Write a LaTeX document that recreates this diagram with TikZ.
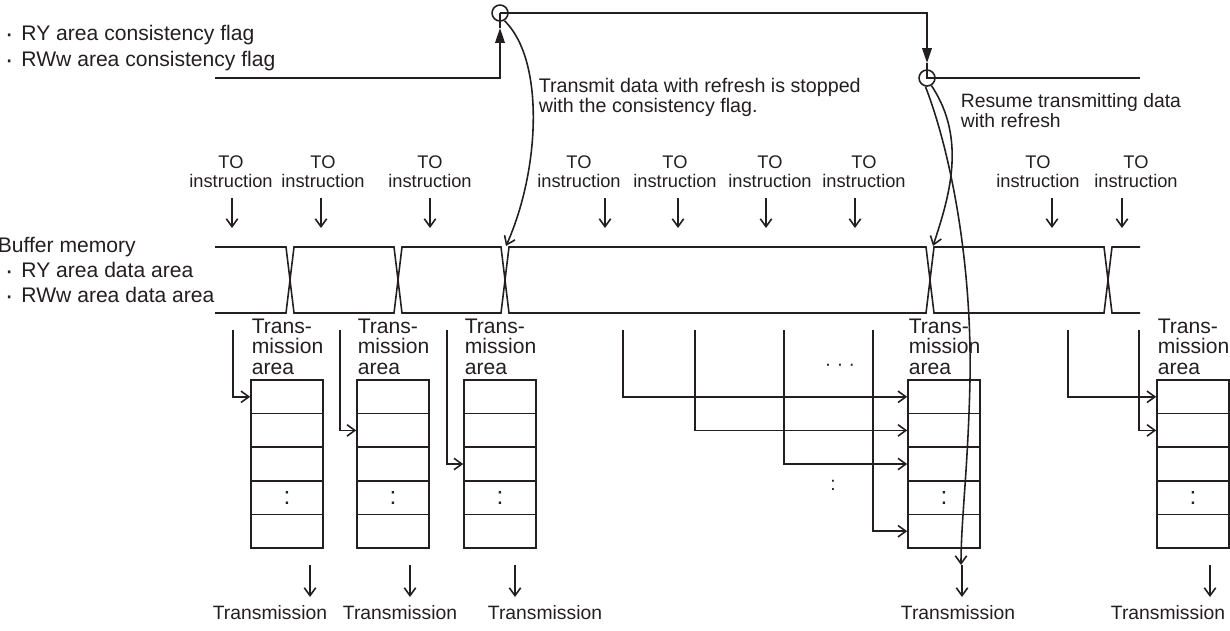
\documentclass[tikz,border=0pt]{standalone}
\usepackage{fontspec}
\setmainfont{Liberation Sans}
\usepackage{tikz}
\usetikzlibrary{arrows.meta,positioning,calc}
\usepackage{xcolor}
\definecolor{inkdark}{HTML}{231F20}
\newcommand{\flagdot}{\raisebox{-1.2pt}{\fontsize{15}{15}\selectfont ·}\hspace{4.5pt}}

\begin{document}
\begin{tikzpicture}[x=0.02cm, y=-0.02cm, line width=0.9pt, inkdark,
    lbl/.style={font=\fontsize{11}{12}\selectfont, inner sep=0pt, text=inkdark},
    sidelbl/.style={lbl, font=\fontsize{12}{12}\selectfont, anchor=base west},
    notelbl/.style={lbl, font=\fontsize{11.2}{10}\selectfont, align=left, anchor=north west},
    cell/.style={draw=inkdark, minimum width=1.44cm, minimum height=0.672cm, inner sep=0pt},
    joint/.style={draw=inkdark, circle, minimum size=0.32cm, inner sep=0pt},
    feedarrow/.style={-{Straight Barb[length=4.5pt,width=6.5pt]}},
    flagtip/.style={-{Triangle[length=8.5pt,width=5.5pt]}}]
  \useasboundingbox (0,0) rectangle (1230,630);

  % consistency flag
  \node[sidelbl] (ryflag) at (4,40) {\flagdot RY area consistency flag};
  \node[sidelbl] (rwwflag) at (4,66) {\flagdot RWw area consistency flag};
  \node[joint] (stopc) at (500,13) {};
  \node[joint] (resc) at (927,78) {};
  \coordinate (flagin) at (215,78);
  \coordinate (stopmark) at (500,28);
  \coordinate (resmark) at (927,63);
  \coordinate (flagout) at (1140,78);
  \draw[flagtip] (flagin) -| (stopmark);
  \draw (stopmark) -- (stopc.center);
  \draw[flagtip] (stopc.center) -| (resmark);
  \draw (resmark) -- (resc.center) -- (flagout);
  \node[notelbl] (stoptxt) at (538,77)
      {Transmit data with refresh is stopped\\with the consistency flag.};
  \node[notelbl, font=\fontsize{11}{10}\selectfont] (restxt) at (960,93)
      {Resume transmitting data\\with refresh};

  % TO instructions
  \foreach \i/\lx/\ax in {1/231/232, 2/323/321, 3/430/430, 4/579/605, 5/675/678,
                          6/770/766, 7/864/855, 8/1038/1052, 9/1136/1122} {
    \node[lbl, font=\fontsize{10.4}{10.4}\selectfont, align=center, anchor=south]
        (to\i) at (\lx,188) {TO\\instruction};
    \coordinate (tofrom\i) at (\ax,198);
    \coordinate (tohit\i) at (\ax,228);
    \draw[feedarrow] (tofrom\i) -- (tohit\i);
  }

  % buffer memory
  \node[sidelbl] (bufname) at (-3,252) {Buffer memory};
  \node[sidelbl] (bufry) at (4,277) {\flagdot RY area data area};
  \node[sidelbl] (bufrww) at (4,302) {\flagdot RWw area data area};
  \draw (215,247) -- (286,247) -- (294,313) -- (394,313) -- (402,247) -- (501,247)
     -- (509,313) -- (926,313) -- (934,247) -- (1104,247) -- (1112,313) -- (1140,313);
  \draw (215,313) -- (286,313) -- (294,247) -- (394,247) -- (402,313) -- (501,313)
     -- (509,247) -- (926,247) -- (934,313) -- (1104,313) -- (1112,247) -- (1140,247);

  % transmission areas
  \foreach \bx/\n in {251/1, 357/2, 464/3, 908/4, 1157/5} {
    \foreach \r in {1,...,5}
      \node[cell] (ta\n-\r) at (\bx+36, 380+33.6*\r-16.8) {};
    \node[lbl, font=\fontsize{14}{14}\selectfont] (ta\n-dots) at (ta\n-4) {:};
    \node[lbl, align=left, anchor=north west, font=\fontsize{12}{11.7}\selectfont]
        (ta\n-lab) at (\bx,318) {Trans-\\mission\\area};
  }
  \foreach \i/\fx/\n/\r in {1/233/1/1, 2/340/2/2, 3/447/3/3, 4/623/4/1, 5/695/4/2,
                            6/784/4/3, 7/873/4/5, 8/1068/5/1, 9/1139/5/2} {
    \coordinate (feed\i) at (\fx,330);
    \draw[feedarrow] (feed\i) |- (ta\n-\r.west);
  }
  \node[lbl] (hdots) at (840,367) {· · ·};
  \node[lbl] (vdots) at (833,485) {:};

  % refresh curves
  \coordinate (stophit) at (506,246);
  \coordinate (reshit) at (933,246);
  \coordinate (resend) at (961,565);
  \draw[feedarrow] (stopc.-60) .. controls (545,60) and (540,170) .. (stophit);
  \draw[feedarrow] (resc.-60) .. controls (968,140) and (948,200) .. (reshit);
  \draw[feedarrow] (resc.-100) .. controls (950,150) and (972,260) .. (970,380)
      .. controls (968,470) and (961,520) .. (resend);

  % transmission outputs
  \foreach \i/\ax/\tx in {1/310/270, 2/410/400, 3/515/545, 4/962/958, 5/1210/1168} {
    \coordinate (out\i) at (\ax,565);
    \coordinate (outtip\i) at (\ax,597);
    \node[lbl, anchor=base] (tx\i) at (\tx,619) {Transmission};
    \draw[feedarrow] (out\i) -- (outtip\i);
  }
\end{tikzpicture}
\end{document}
